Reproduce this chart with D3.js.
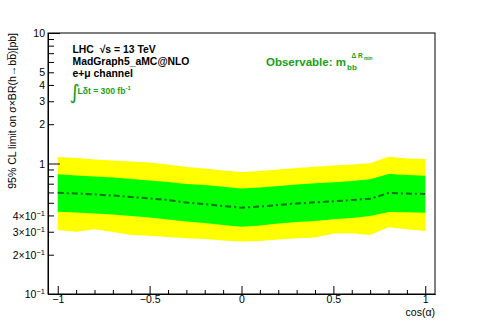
<!DOCTYPE html>
<html><head><meta charset="utf-8">
<script src="https://cdn.jsdelivr.net/npm/d3@7"></script>
<style>
html,body{margin:0;padding:0;background:#fff;}
text{font-family:"Liberation Sans",Arial,Helvetica,sans-serif;}
</style></head>
<body>
<svg id="chart" width="483" height="327"></svg>
<script>
// ---- data ----
const cosAlpha = [-1,-0.9,-0.8,-0.7,-0.6,-0.5,-0.4,-0.3,-0.2,-0.1,0,0.1,0.2,0.3,0.4,0.5,0.6,0.7,0.8,0.9,1];
const yellowUp = [1.121,1.102,1.073,1.054,1.036,1.018,0.982,0.940,0.916,0.884,0.861,0.876,0.900,0.924,0.945,0.965,0.982,1.004,1.127,1.092,1.083];
const greenUp  = [0.826,0.809,0.795,0.781,0.761,0.741,0.722,0.697,0.684,0.664,0.643,0.655,0.672,0.690,0.705,0.718,0.734,0.757,0.831,0.817,0.806];
const median   = [0.597,0.589,0.579,0.568,0.554,0.539,0.525,0.502,0.489,0.472,0.458,0.468,0.481,0.494,0.504,0.513,0.525,0.537,0.594,0.589,0.584];
const greenDn  = [0.427,0.421,0.414,0.407,0.396,0.386,0.372,0.359,0.350,0.338,0.328,0.335,0.347,0.356,0.363,0.374,0.382,0.396,0.425,0.423,0.420];
const yellowDn = [0.309,0.300,0.313,0.299,0.283,0.280,0.273,0.267,0.264,0.257,0.252,0.255,0.262,0.267,0.271,0.291,0.292,0.283,0.324,0.313,0.304];
const xMajorTicks = [-1,-0.5,0,0.5,1];
const xMinorTicks = [-0.9,-0.8,-0.7,-0.6,-0.4,-0.3,-0.2,-0.1,0.1,0.2,0.3,0.4,0.6,0.7,0.8,0.9];
const xTickLabels = ["\u22121","\u22120.5","0","0.5","1"];
const yMajorTicks = [0.1,1,10];
const yMinorTicks = [0.2,0.3,0.4,0.5,0.6,0.7,0.8,0.9,2,3,4,5,6,7,8,9];
const yLabelTicks = [0.1,0.2,0.3,0.4,1,2,3,4,5,10];
const yTickLabels = [["10","\u22121"],["2\u00d710","\u22121"],["3\u00d710","\u22121"],["4\u00d710","\u22121"],["1",""],["2",""],["3",""],["4",""],["5",""],["10",""]];

// ---- layout ----
const L=48,R=435,T=33,B=294;
const svg=d3.select("#chart");
const x=d3.scaleLinear().domain([-1.053,1.053]).range([L,R]);
const y=d3.scaleLog().domain([0.1,10]).range([B,T]);
const pts=cosAlpha.map((c,i)=>({c,yu:yellowUp[i],gu:greenUp[i],m:median[i],gd:greenDn[i],yd:yellowDn[i]}));

svg.append("path").datum(pts).attr("fill","#ffff00")
  .attr("d",d3.area().x(d=>x(d.c)).y0(d=>y(d.yd)).y1(d=>y(d.yu)));
svg.append("path").datum(pts).attr("fill","#00ff00")
  .attr("d",d3.area().x(d=>x(d.c)).y0(d=>y(d.gd)).y1(d=>y(d.gu)));
svg.append("path").datum(pts).attr("fill","none").attr("stroke","#0a6e0a")
  .attr("stroke-width",2).attr("stroke-dasharray","6,3,2,3")
  .attr("d",d3.line().x(d=>x(d.c)).y(d=>y(d.m)));

// frame
svg.append("rect").attr("x",L).attr("y",T).attr("width",R-L).attr("height",B-T)
  .attr("fill","none").attr("stroke","#000").attr("stroke-width",1);

// x axis
const gx=svg.append("g").attr("transform",`translate(0,${B})`);
gx.call(d3.axisBottom(x).tickValues(xMinorTicks).tickSizeInner(-4).tickSizeOuter(0).tickFormat(""));
const gx2=svg.append("g").attr("transform",`translate(0,${B})`);
gx2.call(d3.axisBottom(x).tickValues(xMajorTicks).tickSizeInner(-8).tickSizeOuter(0).tickPadding(2)
  .tickFormat((d,i)=>xTickLabels[i]));
[gx,gx2].forEach(g=>{g.select(".domain").attr("stroke","#000");g.selectAll("line").attr("stroke","#000");});
gx2.selectAll("text").attr("font-size",10.5).attr("fill","#000").style("font-family","'Liberation Sans',Arial,sans-serif");

// y axis
const gy=svg.append("g").attr("transform",`translate(${L},0)`);
gy.call(d3.axisLeft(y).tickValues(yMinorTicks).tickSizeInner(-6).tickSizeOuter(0).tickFormat(""));
const gy2=svg.append("g").attr("transform",`translate(${L},0)`);
gy2.call(d3.axisLeft(y).tickValues(yMajorTicks).tickSizeInner(-12).tickSizeOuter(0).tickFormat(""));
const gy3=svg.append("g").attr("transform",`translate(${L},0)`);
gy3.call(d3.axisLeft(y).tickValues(yLabelTicks).tickSize(0).tickPadding(3).tickFormat(""));
gy3.select(".domain").remove();
[gy,gy2].forEach(g=>{g.select(".domain").attr("stroke","#000");g.selectAll("line").attr("stroke","#000");});
gy3.selectAll(".tick text").each(function(d,i){
  const t=d3.select(this).attr("font-size",10.5).attr("fill","#000").attr("dy","0.35em")
    .style("font-family","'Liberation Sans',Arial,sans-serif");
  const lab=yTickLabels[i];
  t.text(null);
  t.append("tspan").text(lab[0]);
  if(lab[1]) t.append("tspan").attr("dy",-4).attr("font-size",7.5).text(lab[1]);
});

// axis titles
svg.append("text").attr("x",R).attr("y",315.5).attr("text-anchor","end")
  .attr("font-size",10.5).text("cos(\u03b1)");
svg.append("text").attr("transform",`translate(15.5,${T}) rotate(-90)`).attr("text-anchor","end")
  .attr("font-size",10.5).text("95% CL limit on \u03c3\u00d7BR(h\u2192bb\u0305)[pb]");

// annotations
const ann=svg.append("g").attr("font-weight","bold").attr("font-size",10.4).attr("fill","#000");
ann.append("text").attr("x",72.5).attr("y",53).attr("xml:space","preserve").text("LHC  \u221as = 13 TeV");
ann.append("text").attr("x",72.5).attr("y",65).text("MadGraph5_aMC@NLO");
ann.append("text").attr("x",72.5).attr("y",77).text("e+\u03bc channel");
const gcol="#18a018";
svg.append("text").attr("x",69.5).attr("y",98.5).attr("font-size",20).attr("fill",gcol)
  .style("font-family","'DejaVu Sans',sans-serif").text("\u222b");
const it=svg.append("text").attr("x",77.5).attr("y",94).attr("font-size",8.6).attr("font-weight","bold").attr("fill",gcol);
it.append("tspan").text("L\u03b4t = 300 fb");
it.append("tspan").attr("dy",-4).attr("font-size",6).text("-1");

const ob=svg.append("g").attr("fill",gcol).attr("font-weight","bold");
ob.append("text").attr("x",266).attr("y",66).attr("font-size",11.5).text("Observable: m");
ob.append("text").attr("x",347).attr("y",70).attr("font-size",8).text("bb");
ob.append("text").attr("x",351.5).attr("y",58).attr("font-size",6.5).attr("xml:space","preserve").text("\u0394 R");
ob.append("text").attr("x",364).attr("y",60).attr("font-size",4.8).text("min");
</script>
</body></html>
